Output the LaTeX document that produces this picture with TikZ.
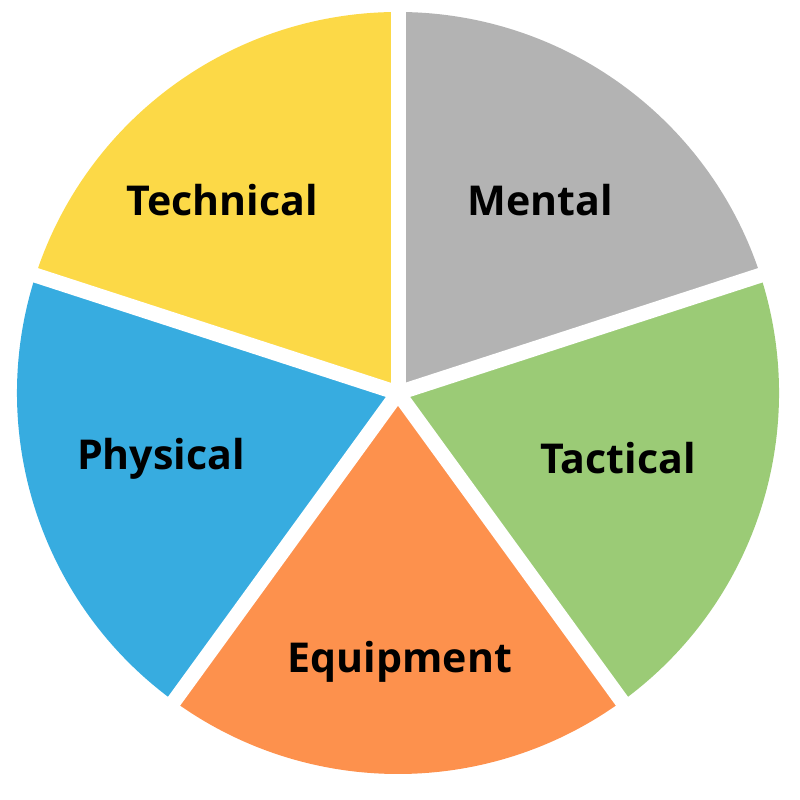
\documentclass[tikz,border=0pt]{standalone}
\usepackage{fontspec}
\setmainfont{Open Sans}
\definecolor{techyellow}{HTML}{FCD947}
\definecolor{mentalgray}{HTML}{B3B3B3}
\definecolor{tacticgreen}{HTML}{9BCB76}
\definecolor{equiporange}{HTML}{FD914D}
\definecolor{physblue}{HTML}{37ACE0}
\providecommand{\pieradius}{3.81}

\begin{document}
\begin{tikzpicture}[
    gap/.style={draw=white, line width=0.15cm},
    label/.style={font=\fontsize{11.7}{14}\selectfont\bfseries, text=black, inner sep=0pt}
]
    \useasboundingbox (0,0) rectangle (8,8);
    \coordinate (c) at (3.98, 4.07);

    % ==================== SLICES ====================
    \fill[techyellow]  (c) -- ++(90:\pieradius)  arc (90:162:\pieradius)  -- cycle;
    \fill[mentalgray]  (c) -- ++(18:\pieradius)  arc (18:90:\pieradius)   -- cycle;
    \fill[tacticgreen] (c) -- ++(-54:\pieradius) arc (-54:18:\pieradius)  -- cycle;
    \fill[equiporange] (c) -- ++(-126:\pieradius) arc (-126:-54:\pieradius) -- cycle;
    \fill[physblue]    (c) -- ++(162:\pieradius) arc (162:234:\pieradius) -- cycle;

    % white gaps between slices
    \foreach \a in {90, 18, -54, -126, 162}
        \draw[gap] (c) -- ++(\a:\pieradius+0.1);

    % ==================== LABELS ====================
    \node[label] (technical) at (2.22, 6.00) {Technical};
    \node[label] (mental)    at (5.40, 6.00) {Mental};
    \node[label] (tactical)  at (6.18, 3.42) {Tactical};
    \node[label] (physical)  at (1.61, 3.41) {Physical};
    \node[label] (equipment) at (4.00, 1.38) {Equipment};

\end{tikzpicture}
\end{document}
